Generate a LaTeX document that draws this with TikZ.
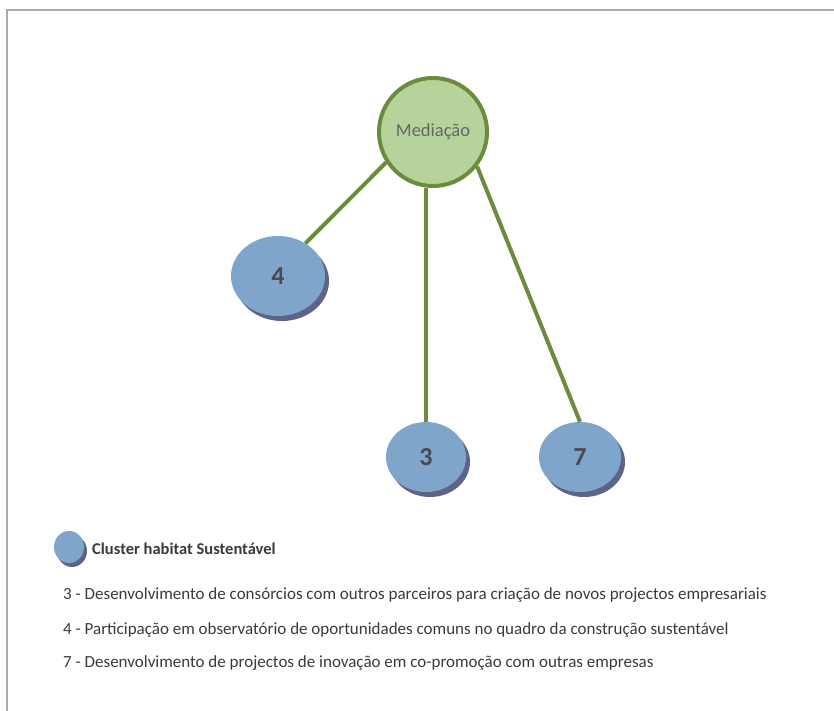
\documentclass[tikz,border=0pt]{standalone}
\usepackage{fontspec}
\setmainfont{Carlito}
\usetikzlibrary{shapes.geometric}
\definecolor{medfill}{HTML}{B5D39A}
\definecolor{medline}{HTML}{6B8C3C}
\definecolor{bluefill}{HTML}{7FA5CA}
\definecolor{blueshadow}{HTML}{5E6488}
\definecolor{numtext}{HTML}{4A4A55}
\definecolor{txt}{HTML}{3A3A3A}
\definecolor{frame}{HTML}{AAAAAA}
\begin{document}
\begin{tikzpicture}[x=1pt,y=-1pt,
  hub/.style={circle,draw=medline,line width=4pt,fill=medfill,minimum size=108pt,inner sep=0pt,font=\fontsize{18.5}{22}\selectfont,text=numtext!85},
  cl/.style={ellipse,fill=bluefill,inner sep=0pt,font=\bfseries\fontsize{26}{30}\selectfont,text=numtext},
  link/.style={draw=medline,line width=4pt},
  desc/.style={anchor=west,inner sep=0pt,font=\fontsize{17}{20}\selectfont,text=txt}]
\useasboundingbox (0,0) rectangle (834,711);
\draw[frame,line width=1.2pt] (7,711) -- (7,10) -- (834,10);
% shadows
\fill[blueshadow] (282,281) ellipse [x radius=47pt,y radius=40pt];
\fill[blueshadow] (430,462) ellipse [x radius=40pt,y radius=35pt];
\fill[blueshadow] (584,462) ellipse [x radius=41pt,y radius=35pt];
\fill[blueshadow] (72,551) ellipse [x radius=15pt,y radius=16pt];
% nodes
\node[cl,minimum width=94pt,minimum height=80pt] (n4) at (278,276) {4};
\node[cl,minimum width=80pt,minimum height=70pt] (n3) at (426,457) {3};
\node[cl,minimum width=82pt,minimum height=70pt] (n7) at (580,457) {7};
\node[cl,minimum width=30pt,minimum height=32pt] (lg) at (69,547) {};
\node[hub] (med) at (433,132) {Mediação};
% links
\draw[link] (med.213) -- (n4.50);
\draw[link] (n3.north |- med.south) -- (n3.north);
\draw[link] (med.-38) -- (n7.north);
% legend
\node[desc,font=\bfseries\fontsize{16.5}{20}\selectfont] (lt) at (92,549) {Cluster habitat Sustentável};
\node[desc] (d3) at (63,595) {3 - Desenvolvimento de consórcios com outros parceiros para criação de novos projectos empresariais};
\node[desc] (d4) at (63,630) {4 - Participação em observatório de oportunidades comuns no quadro da construção sustentável};
\node[desc] (d7) at (63,663) {7 - Desenvolvimento de projectos de inovação em co-promoção com outras empresas};
\end{tikzpicture}
\end{document}
